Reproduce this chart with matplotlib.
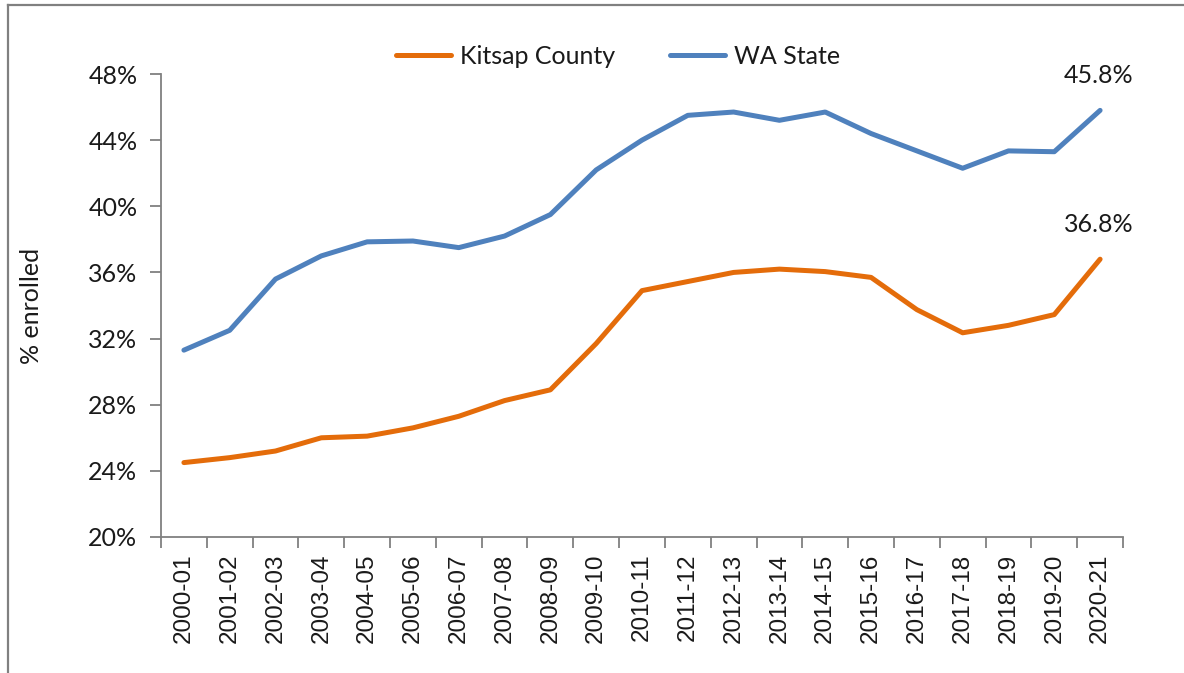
import matplotlib
matplotlib.use("Agg")
import matplotlib.pyplot as plt
from matplotlib.lines import Line2D
from matplotlib.ticker import FixedLocator, FuncFormatter

# school years on the x axis
years = ["2000-01", "2001-02", "2002-03", "2003-04", "2004-05", "2005-06",
         "2006-07", "2007-08", "2008-09", "2009-10", "2010-11", "2011-12",
         "2012-13", "2013-14", "2014-15", "2015-16", "2016-17", "2017-18",
         "2018-19", "2019-20", "2020-21"]

# % enrolled
kitsap = [24.5, 24.8, 25.2, 26.0, 26.1, 26.6, 27.3, 28.25, 28.9, 31.7, 34.9,
          35.45, 36.0, 36.2, 36.05, 35.7, 33.75, 32.35, 32.8, 33.45, 36.8]
wa_state = [31.3, 32.5, 35.6, 37.0, 37.85, 37.9, 37.5, 38.2, 39.5, 42.2, 44.0,
            45.5, 45.7, 45.2, 45.7, 44.4, 43.35, 42.3, 43.35, 43.3, 45.8]

y_ticks = [20, 24, 28, 32, 36, 40, 44, 48]

ORANGE = "#E46C0A"
BLUE = "#4F81BD"
AXIS_GRAY = "#808080"
TXT = "#1a1a1a"
MAIN_FONT = ["Lato", "DejaVu Sans"]
TICK_FONT = ["Liberation Sans", "DejaVu Sans"]

fig = plt.figure(figsize=(11.84, 6.73), dpi=100)
ax = fig.add_axes([161 / 1184, 1 - 537 / 673, (1123 - 161) / 1184, (537 - 74) / 673])

x = list(range(len(years)))
ax.plot(x, kitsap, color=ORANGE, lw=3.6, solid_capstyle="round", label="Kitsap County")
ax.plot(x, wa_state, color=BLUE, lw=3.6, solid_capstyle="round", label="WA State")

# end-point labels
for series in (wa_state, kitsap):
    ax.annotate(f"{series[-1]:.1f}%", (x[-1], series[-1]), xytext=(-1, 25),
                textcoords="offset points", ha="center", va="center",
                fontsize=18, family=MAIN_FONT, color=TXT)

ax.set_xlim(-0.5, len(years) - 0.5)
ax.set_ylim(20, 48)

# category ticks between labels, like Excel
ax.xaxis.set_major_locator(FixedLocator([i - 0.5 for i in range(len(years) + 1)]))
ax.xaxis.set_major_formatter(FuncFormatter(lambda v, p: ""))
ax.xaxis.set_minor_locator(FixedLocator(x))
ax.set_xticklabels(years, minor=True, rotation=90, fontsize=17.5,
                   family=TICK_FONT, color=TXT)
ax.tick_params(axis="x", which="major", direction="out", length=8, width=1.3,
               color=AXIS_GRAY)
ax.tick_params(axis="x", which="minor", length=0, pad=12)

ax.set_yticks(y_ticks)
ax.set_yticklabels([f"{t}%" for t in y_ticks], fontsize=18, family=MAIN_FONT, color=TXT)
ax.tick_params(axis="y", direction="out", length=8, width=1.3, color=AXIS_GRAY, pad=9)

for side in ("top", "right"):
    ax.spines[side].set_visible(False)
for side in ("left", "bottom"):
    ax.spines[side].set_color(AXIS_GRAY)
    ax.spines[side].set_linewidth(1.3)

ax.set_ylabel("% enrolled", fontsize=18, family=MAIN_FONT, color=TXT)
ax.yaxis.set_label_coords((43 - 161) / 962, 0.5)

leg = ax.legend(loc="center", bbox_to_anchor=(618 / 1184, 1 - 56 / 673),
                bbox_transform=fig.transFigure, ncol=2, frameon=False,
                prop={"family": MAIN_FONT, "size": 18}, handlelength=2.2,
                handletextpad=0.35, columnspacing=2.2)
for t in leg.get_texts():
    t.set_color(TXT)

# outer frame (top and left edges visible in the source)
fig.add_artist(Line2D([8 / 1184, 1], [1 - 5 / 673] * 2, color=AXIS_GRAY, lw=1.6,
                      transform=fig.transFigure))
fig.add_artist(Line2D([8 / 1184] * 2, [0, 1 - 5 / 673], color=AXIS_GRAY, lw=1.6,
                      transform=fig.transFigure))

fig.savefig("out.png", dpi=100, facecolor="white")
